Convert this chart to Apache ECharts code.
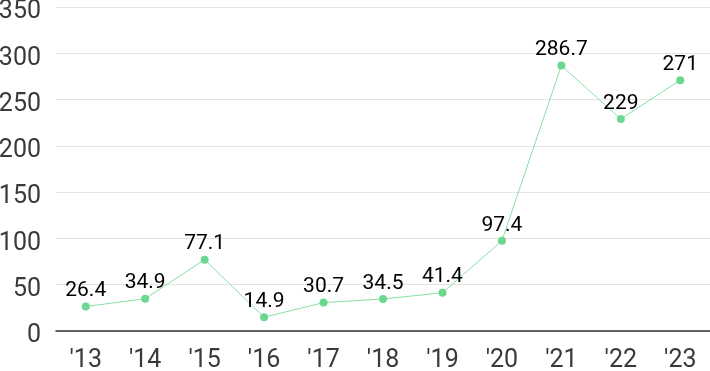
<!DOCTYPE html>
<html><head><meta charset="utf-8">
<script src="https://cdn.jsdelivr.net/npm/echarts@6/dist/echarts.min.js"></script>
<style>html,body{margin:0;padding:0;background:#fff}#c{width:710px;height:371px}</style>
</head><body><div id="c"></div>
<script>
const categories = ["'13","'14","'15","'16","'17","'18","'19","'20","'21","'22","'23"];
const values = [26.4, 34.9, 77.1, 14.9, 30.7, 34.5, 41.4, 97.4, 286.7, 229, 271];
const yTicks = [0, 350, 50];
const chart = echarts.init(document.getElementById('c'));
chart.setOption({
  animation: false,
  grid: {left: 56, right: 0, top: 7, bottom: 40, containLabel: false, outerBoundsMode: 'none'},
  xAxis: {
    type: 'category', data: categories, boundaryGap: true,
    axisLine: {lineStyle: {color: '#333', width: 1.5}},
    axisTick: {show: false},
    axisLabel: {color: '#3a3a3a', fontSize: 25, fontFamily: 'Roboto', margin: 17}
  },
  yAxis: {
    type: 'value', min: yTicks[0], max: yTicks[1], interval: yTicks[2],
    axisLine: {show: false}, axisTick: {show: false},
    axisLabel: {color: '#3a3a3a', fontSize: 25, fontFamily: 'Roboto', margin: 15, verticalAlign: 'top', lineHeight: 10},
    splitLine: {lineStyle: {color: '#e3e3e3'}}
  },
  series: [{
    type: 'line', data: values, symbol: 'circle', symbolSize: 8,
    lineStyle: {color: '#86e0a4', width: 1},
    itemStyle: {color: '#6ad890'},
    label: {show: true, position: 'top', distance: 1, color: '#000', fontSize: 21, fontFamily: 'Roboto'}
  }]
});
</script></body></html>
